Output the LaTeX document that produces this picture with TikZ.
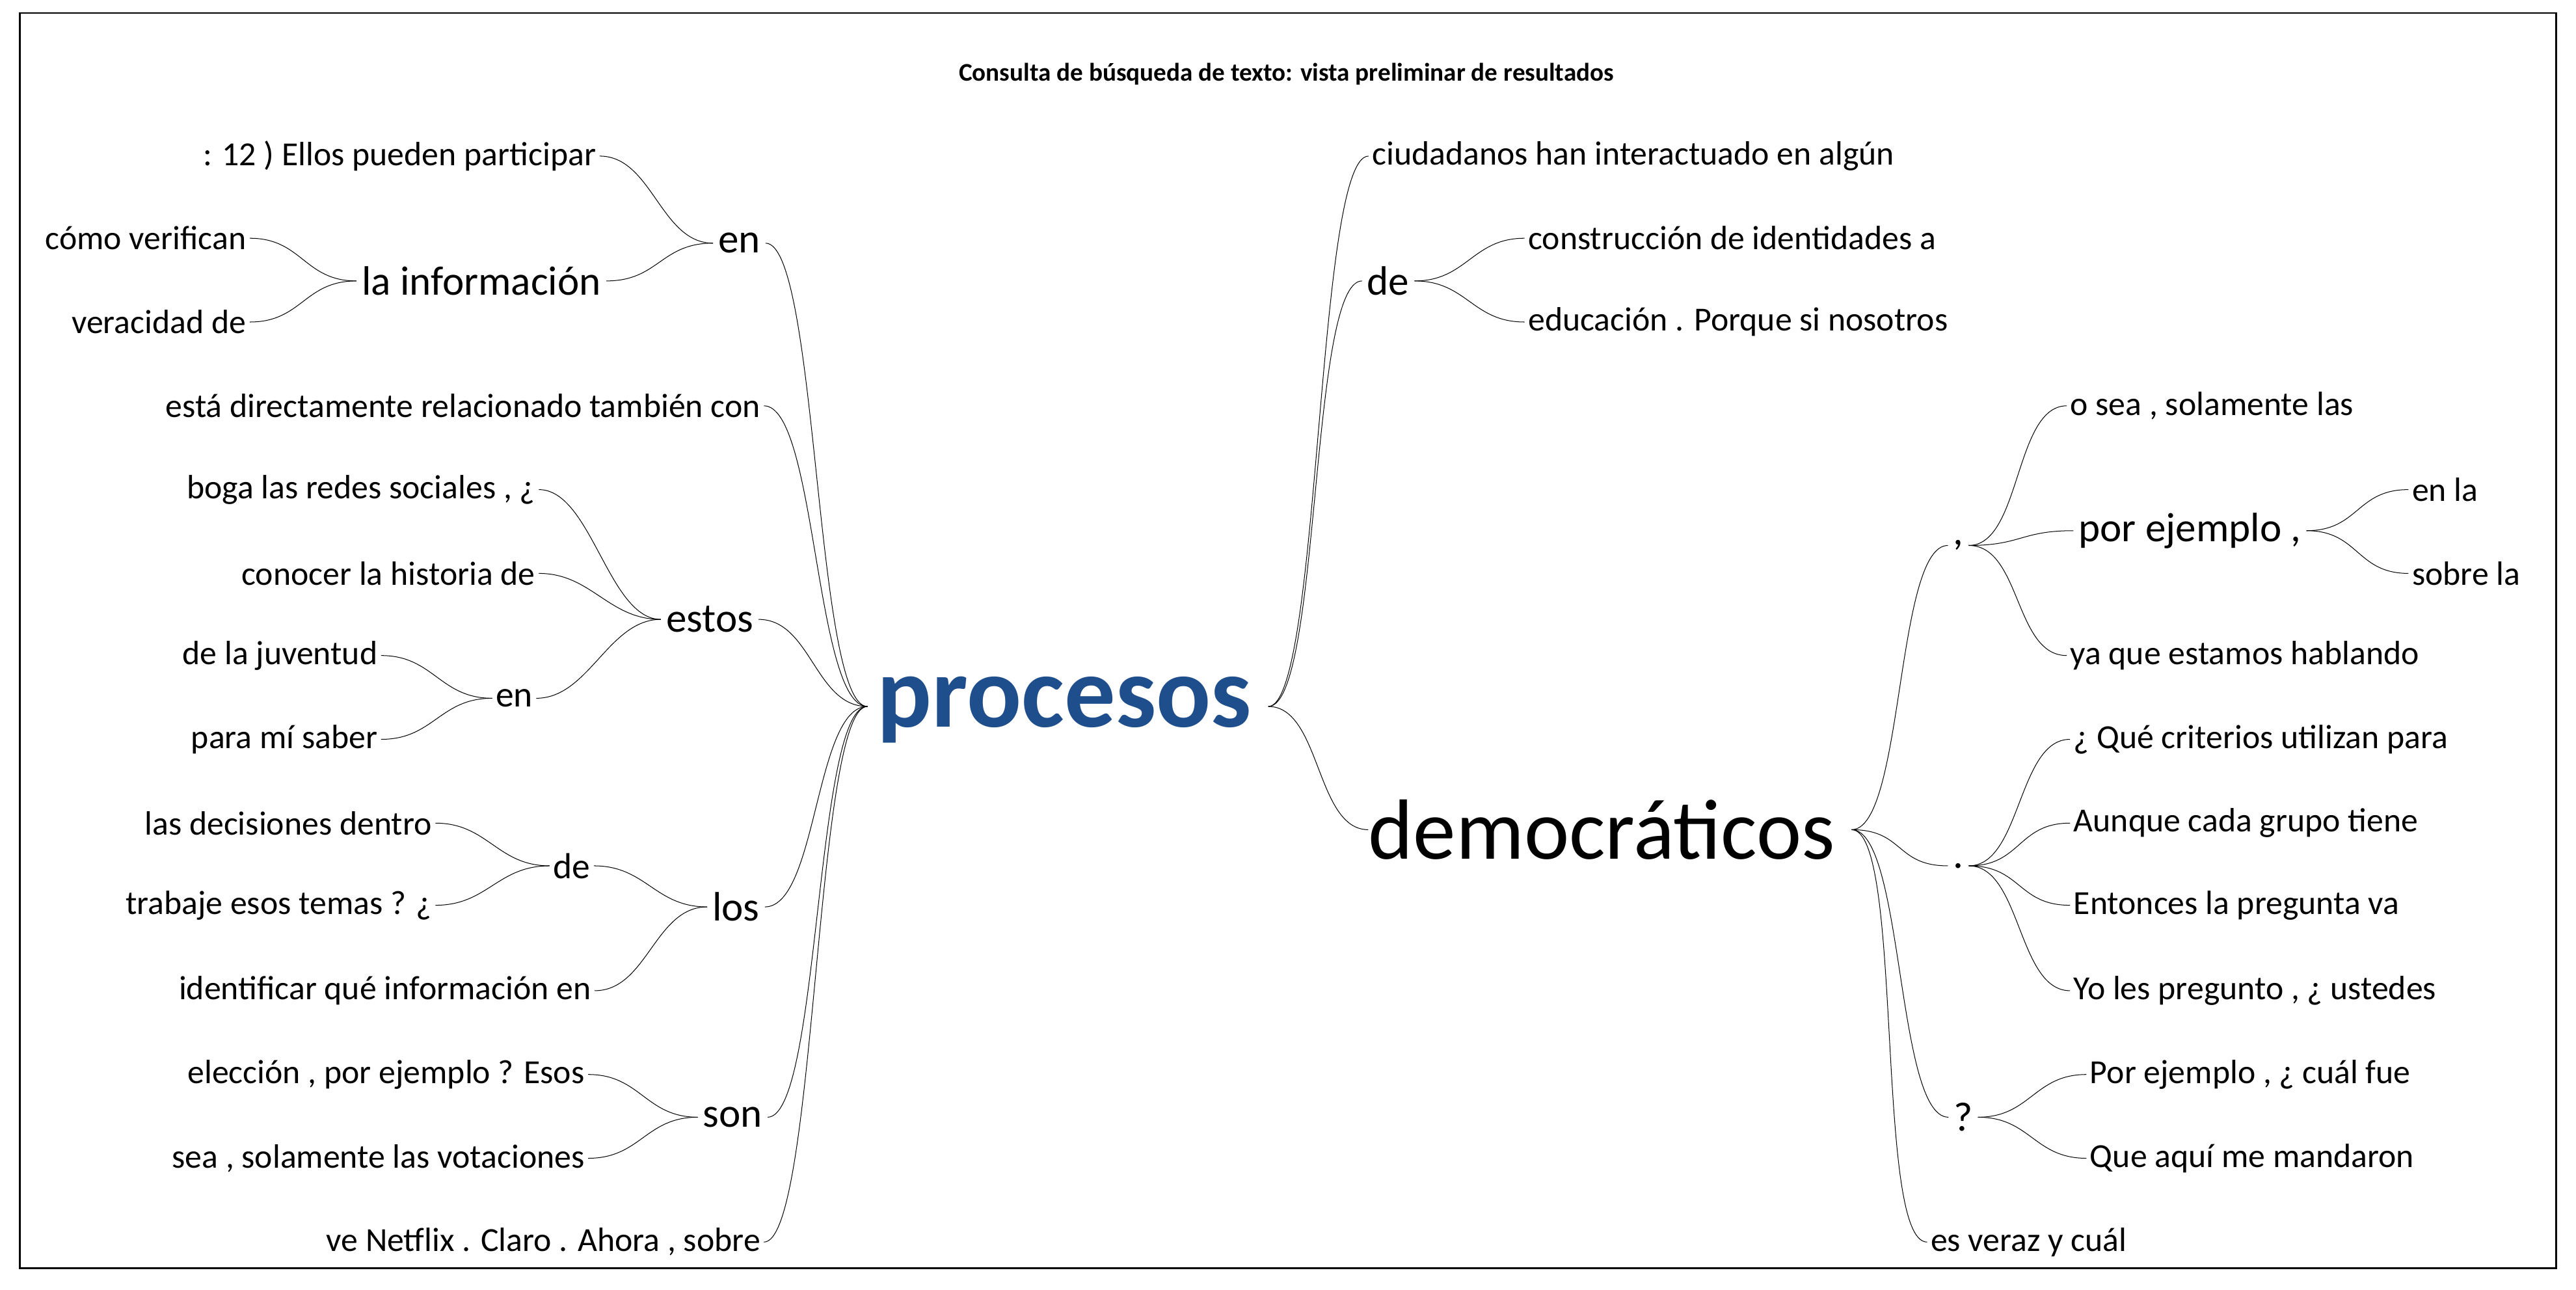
\documentclass[tikz,border=0pt]{standalone}
\usepackage{fontspec}
\setmainfont{Carlito}
\definecolor{pblue}{HTML}{1F4E8C}
\begin{document}
\begin{tikzpicture}[x=1pt,y=-1pt,
  t/.style={font=\fontsize{20.5}{22}\selectfont,inner sep=2pt},
  m/.style={font=\fontsize{25}{27}\selectfont,inner sep=3pt},
  e/.style={draw=gray!90!black,line width=2.4pt},
  L/.style={e,out=180,in=0,out distance=32,in distance=32},
  R/.style={e,out=0,in=180,out distance=32,in distance=32}]
\useasboundingbox (0,0) rectangle (1568,785);
\fill[white] (0,0) rectangle (1568,785);
\draw[line width=1pt] (12,8) rectangle (1556,772);
\node[font=\bfseries\fontsize{15.5}{17}\selectfont] (title) at (783,45) {Consulta de búsqueda de texto: vista preliminar de resultados};
% centre
\node[font=\bfseries\fontsize{62}{64}\selectfont,text=pblue,inner sep=0pt] (proc) at (648,432) {procesos};
\coordinate (pl) at (528,430);
\coordinate (pr) at (772,430);
\node[font=\fontsize{52}{54}\selectfont,inner sep=0pt] (dem) at (975,505) {democráticos};
\coordinate (dr) at (1127,505);
% left side
\node[m] (en1) at (450,148) {en};
\node[t,anchor=east] (l1) at (365,95) {: 12 ) Ellos pueden participar};
\node[m] (info) at (293,171) {la información};
\node[t,anchor=east] (l2) at (152,145) {cómo verifican};
\node[t,anchor=east] (l3) at (152,196) {veracidad de};
\node[t,anchor=east] (l4) at (465,247) {está directamente relacionado también con};
\node[m] (estos) at (432,377) {estos};
\node[t,anchor=east] (l5) at (328,298) {boga las redes sociales , ¿};
\node[t,anchor=east] (l6) at (328,349) {conocer la historia de};
\node[t,font=\fontsize{22}{24}\selectfont] (en2) at (313,425) {en};
\node[t,anchor=east] (l7) at (232,399) {de la juventud};
\node[t,anchor=east] (l8) at (232,450) {para mí saber};
\node[m] (los) at (448,552) {los};
\node[t,font=\fontsize{22}{24}\selectfont] (de1) at (348,527) {de};
\node[t,anchor=east] (l9) at (265,501) {las decisiones dentro};
\node[t,anchor=east] (l10) at (265,551) {trabaje esos temas ? ¿};
\node[t,anchor=east] (l11) at (362,603) {identificar qué información en};
\node[m] (son) at (446,680) {son};
\node[t,anchor=east] (l12) at (358,654) {elección , por ejemplo ? Esos};
\node[t,anchor=east] (l13) at (358,705) {sea , solamente las votaciones};
\node[t,anchor=east] (l14) at (465,756) {ve Netflix . Claro . Ahora , sobre};
% right side
\node[t,anchor=west] (r1) at (833,95) {ciudadanos han interactuado en algún};
\node[m] (de2) at (845,171) {de};
\node[t,anchor=west] (r2) at (928,145) {construcción de identidades a};
\node[t,anchor=west] (r3) at (928,196) {educación . Porque si nosotros};
\node[m] (comma) at (1192,332) {,};
\node[t,anchor=west] (r4) at (1258,247) {o sea , solamente las};
\node[m] (pe) at (1333,323) {por ejemplo ,};
\node[t,anchor=west] (r5) at (1466,298) {en la};
\node[t,anchor=west] (r6) at (1466,349) {sobre la};
\node[t,anchor=west] (r7) at (1258,399) {ya que estamos hablando};
\node[m] (dot) at (1192,527) {.};
\node[t,anchor=west] (r8) at (1260,450) {¿ Qué criterios utilizan para};
\node[t,anchor=west] (r9) at (1260,501) {Aunque cada grupo tiene};
\node[t,anchor=west] (r10) at (1260,551) {Entonces la pregunta va};
\node[t,anchor=west] (r11) at (1260,603) {Yo les pregunto , ¿ ustedes};
\node[m] (q) at (1195,680) {?};
\node[t,anchor=west] (r12) at (1270,654) {Por ejemplo , ¿ cuál fue};
\node[t,anchor=west] (r13) at (1270,705) {Que aquí me mandaron};
\node[t,anchor=west] (r14) at (1173,756) {es veraz y cuál};
% edges left
\foreach \c in {en1,l4,estos,los,son,l14} \draw (pl) to[L] (\c.east);
\draw (en1.west) to[L] (l1.east);
\draw (en1.west) to[L] (info.east);
\draw (info.west) to[L] (l2.east);
\draw (info.west) to[L] (l3.east);
\draw (estos.west) to[L] (l5.east);
\draw (estos.west) to[L] (l6.east);
\draw (estos.west) to[L] (en2.east);
\draw (en2.west) to[L] (l7.east);
\draw (en2.west) to[L] (l8.east);
\draw (los.west) to[L] (de1.east);
\draw (los.west) to[L] (l11.east);
\draw (de1.west) to[L] (l9.east);
\draw (de1.west) to[L] (l10.east);
\draw (son.west) to[L] (l12.east);
\draw (son.west) to[L] (l13.east);
% edges right
\draw (pr) to[R] (r1.west);
\draw (pr) to[R] (de2.west);
\draw (pr) to[R] (dem.west);
\draw (de2.east) to[R] (r2.west);
\draw (de2.east) to[R] (r3.west);
\foreach \c in {comma,dot,q,r14} \draw (dr) to[R] (\c.west);
\draw (comma.east) to[R] (r4.west);
\draw (comma.east) to[R] (pe.west);
\draw (comma.east) to[R] (r7.west);
\draw (pe.east) to[R] (r5.west);
\draw (pe.east) to[R] (r6.west);
\foreach \c in {r8,r9,r10,r11} \draw (dot.east) to[R] (\c.west);
\draw (q.east) to[R] (r12.west);
\draw (q.east) to[R] (r13.west);
\end{tikzpicture}
\end{document}
